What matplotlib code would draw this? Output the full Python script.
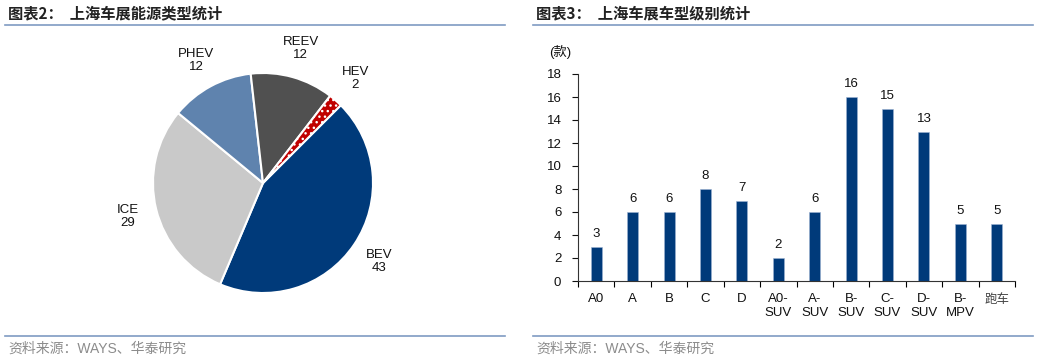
import numpy as np
import matplotlib
matplotlib.use("Agg")
import matplotlib.pyplot as plt

plt.rcParams['font.family'] = ['Liberation Sans', 'Noto Sans CJK SC', 'DejaVu Sans']
plt.rcParams['hatch.color'] = 'white'
plt.rcParams['hatch.linewidth'] = 1.0

# pie data
pie_labels = ["BEV", "ICE", "PHEV", "REEV", "HEV"]
pie_values = [43, 29, 12, 12, 2]
pie_colors = ["#003A7A", "#C9C9C9", "#5F83AE", "#505050", "#C00000"]

# bar data
bar_cats = ["A0", "A", "B", "C", "D", "A0-\nSUV", "A-\nSUV", "B-\nSUV", "C-\nSUV", "D-\nSUV", "B-\nMPV", "跑车"]
bar_values = [3, 6, 6, 8, 7, 2, 6, 16, 15, 13, 5, 5]
y_ticks = list(range(0, 19, 2))

W, H = 1038, 361
fig = plt.figure(figsize=(W / 100, H / 100), dpi=100)

def px(x0, y_top, w, h):
    return [x0 / W, (H - y_top - h) / H, w / W, h / H]

# headers and footers
line_col = "#7F9BC2"
for x0, x1, title in [(5, 505, "图表2：  上海车展能源类型统计"), (533, 1033, "图表3：  上海车展车型级别统计")]:
    fig.text((x0 + 3) / W, 1 - 13 / H, title, fontsize=11, fontweight='bold', va='center', ha='left',
             family=['Noto Sans CJK SC'], color='#222222')
    fig.add_artist(plt.Line2D([x0 / W, x1 / W], [1 - 25 / H, 1 - 25 / H], color=line_col, lw=1.2))
    fig.add_artist(plt.Line2D([x0 / W, x1 / W], [1 - 336 / H, 1 - 336 / H], color=line_col, lw=1.2))
    fig.text((x0 + 3) / W, 1 - 349 / H, "资料来源：WAYS、华泰研究", fontsize=10, va='center', ha='left',
             color='#8C8C8C')

# pie chart
ax1 = fig.add_axes(px(153, 73, 220, 220))
wedges, texts = ax1.pie(pie_values, labels=[f"{l}\n{v}" for l, v in zip(pie_labels, pie_values)],
                        colors=pie_colors, startangle=45, counterclock=False, labeldistance=1.27,
                        wedgeprops=dict(edgecolor='white', linewidth=1.5),
                        textprops=dict(fontsize=9.5, color='#111111'))
wedges[-1].set_hatch('...')
for t in texts:
    t.set_ha('center')
    t.set_va('center')
    t.set_linespacing(1.1)
ax1.set_xlim(-1, 1)
ax1.set_ylim(-1, 1)
ax1.set_aspect('equal')
ax1.axis('off')

# bar chart
ax2 = fig.add_axes(px(578, 74, 437, 207))
x = np.arange(len(bar_cats))
ax2.bar(x, bar_values, width=0.3, color="#003A7A", edgecolor="#9DB3D3", linewidth=0.4)
for xi, v in zip(x, bar_values):
    ax2.annotate(str(v), (xi, v), xytext=(0, 5), textcoords='offset points', ha='center', va='bottom',
                 fontsize=9.5, color='#111111')
ax2.set_xlim(-0.5, len(bar_cats) - 0.5)
ax2.set_ylim(0, 18)
ax2.set_yticks(y_ticks)
ax2.tick_params(axis='y', labelsize=9.5, length=4, width=0.8, direction='out', pad=8, colors='#111111')
ax2.set_xticks(x)
ax2.set_xticklabels(bar_cats, fontsize=9.5, linespacing=1.15)
ax2.tick_params(axis='x', which='major', length=0, pad=9, colors='#111111')
ax2.set_xticks(np.arange(-0.5, len(bar_cats), 1), minor=True)
ax2.tick_params(axis='x', which='minor', length=4, width=0.8, direction='out')
for s in ['top', 'right']:
    ax2.spines[s].set_visible(False)
for s in ['left', 'bottom']:
    ax2.spines[s].set_linewidth(0.8)
    ax2.spines[s].set_color('#333333')
for lab in ax2.get_xticklabels():
    if lab.get_text() == "跑车":
        lab.set_family(['Noto Sans CJK SC'])
        lab.set_fontsize(9)
        lab.set_color('#444444')
        lab.set_va('top')

fig.text(560 / W, 1 - 52 / H, "(款)", fontsize=9.5, ha='center', va='center', color='#111111')

fig.savefig("out.png", dpi=100)
